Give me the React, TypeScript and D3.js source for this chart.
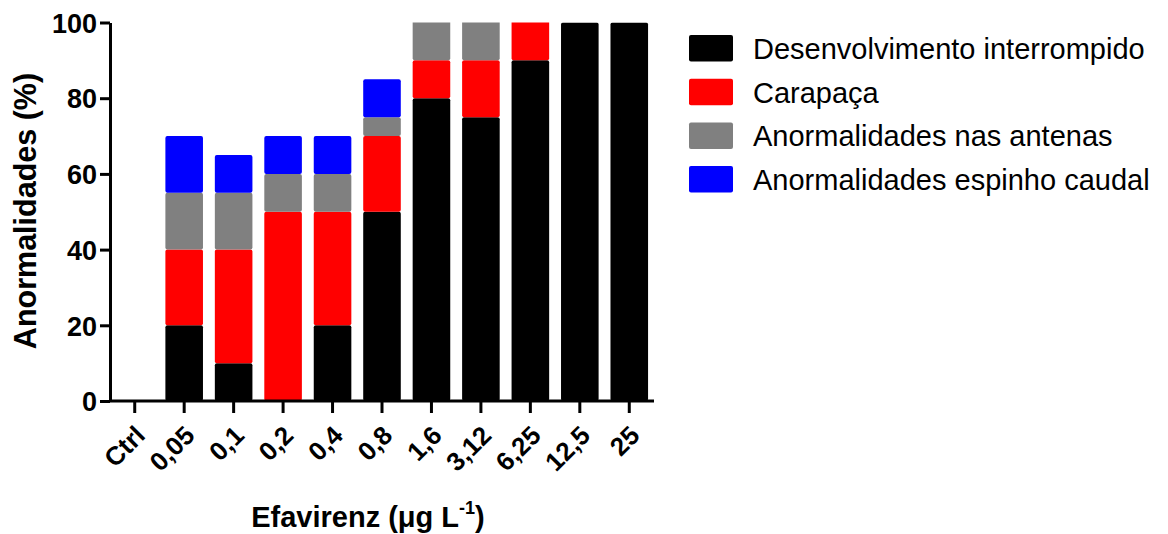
import { useRef, useEffect } from 'react';
import * as d3 from 'd3';

const categories = ['Ctrl', '0,05', '0,1', '0,2', '0,4', '0,8', '1,6', '3,12', '6,25', '12,5', '25'];
const desenvolvimento = [0, 20, 10, 0, 20, 50, 80, 75, 90, 100, 100];
const carapaca = [0, 20, 30, 50, 30, 20, 10, 15, 15, 0, 0];
const antenas = [0, 15, 15, 10, 10, 5, 15, 15, 0, 0, 0];
const espinho = [0, 15, 10, 10, 10, 10, 0, 0, 0, 0, 0];
const seriesNames = [
  'Desenvolvimento interrompido',
  'Carapaça',
  'Anormalidades nas antenas',
  'Anormalidades espinho caudal',
];
const seriesColors = ['#000000', '#ff0000', '#808080', '#0000ff'];
const yTicks = [0, 20, 40, 60, 80, 100];

const W = 1168;
const H = 534;
const FONT = '"Liberation Sans", Arial, Helvetica, sans-serif';

export default function App() {
  const svgRef = useRef<SVGSVGElement>(null);

  useEffect(() => {
    if (!svgRef.current) return;
    const svg = d3.select(svgRef.current);
    svg.selectAll('*').remove();

    const left = 110;
    const right = 654;
    const top = 22.5;
    const bottom = 401;

    const x = d3.scaleBand<string>().domain(categories).range([left, right]).paddingInner(0.24).paddingOuter(0.12);
    const y = d3.scaleLinear().domain([0, 100]).range([bottom, top]);

    const rows = categories.map((c, i) => ({
      cat: c,
      s0: desenvolvimento[i],
      s1: carapaca[i],
      s2: antenas[i],
      s3: espinho[i],
    }));
    const stack = d3.stack<any>().keys(['s0', 's1', 's2', 's3'])(rows);

    // bars above 100% are cut off at the top of the axis
    svg
      .append('defs')
      .append('clipPath')
      .attr('id', 'plotclip')
      .append('rect')
      .attr('x', left)
      .attr('y', top)
      .attr('width', right - left)
      .attr('height', bottom - top);

    const bars = svg.append('g').attr('clip-path', 'url(#plotclip)');
    stack.forEach((layer, si) => {
      bars
        .append('g')
        .selectAll('rect')
        .data(layer.filter((d) => d[1] - d[0] > 0))
        .join('rect')
        .attr('x', (d) => x(d.data.cat) as number)
        .attr('width', x.bandwidth())
        .attr('y', (d) => y(d[1]))
        .attr('height', (d) => y(d[0]) - y(d[1]))
        .attr('rx', 2)
        .attr('fill', seriesColors[si]);
    });

    // Y axis
    const yAxis = svg
      .append('g')
      .attr('transform', `translate(${left},0)`)
      .call(d3.axisLeft(y).tickValues(yTicks).tickSize(10).tickPadding(3).tickSizeOuter(0));
    yAxis.select('.domain').attr('stroke', '#000').attr('stroke-width', 3);
    yAxis.selectAll('.tick line').attr('stroke', '#000').attr('stroke-width', 3);
    yAxis
      .selectAll('.tick text')
      .attr('fill', '#000')
      .attr('font-family', FONT)
      .attr('font-weight', 'bold')
      .attr('font-size', 27)
      .attr('dy', '0.36em');

    // X axis
    const xAxis = svg
      .append('g')
      .attr('transform', `translate(0,${bottom})`)
      .call(d3.axisBottom(x).tickSize(12).tickSizeOuter(0));
    xAxis.select('.domain').attr('stroke', '#000').attr('stroke-width', 3).attr('d', `M${left},0H${right}`);
    xAxis.selectAll('.tick line').attr('stroke', '#000').attr('stroke-width', 3);
    xAxis
      .selectAll('.tick text')
      .attr('fill', '#000')
      .attr('font-family', FONT)
      .attr('font-weight', 'bold')
      .attr('font-size', 26)
      .attr('text-anchor', 'end')
      .attr('y', 0)
      .attr('dy', 0)
      .attr('transform', 'translate(12,36) rotate(-45)');

    // Axis titles
    svg
      .append('text')
      .attr('transform', `translate(36,211) rotate(-90)`)
      .attr('text-anchor', 'middle')
      .attr('font-family', FONT)
      .attr('font-weight', 'bold')
      .attr('font-size', 30.5)
      .text('Anormalidades (%)');

    const xt = svg
      .append('text')
      .attr('x', 368)
      .attr('y', 527)
      .attr('text-anchor', 'middle')
      .attr('font-family', FONT)
      .attr('font-weight', 'bold')
      .attr('font-size', 29);
    xt.append('tspan').text('Efavirenz (μg L');
    xt.append('tspan').attr('font-size', 18).attr('dy', -13).text('-1');
    xt.append('tspan').attr('dy', 13).text(')');

    // Legend
    const legend = svg
      .append('g')
      .selectAll('g')
      .data(seriesNames)
      .join('g')
      .attr('transform', (_, i) => `translate(689,${35 + i * 43.7})`);
    legend
      .append('rect')
      .attr('width', 44)
      .attr('height', 26.5)
      .attr('rx', 2)
      .attr('fill', (_, i) => seriesColors[i]);
    legend
      .append('text')
      .attr('x', 64)
      .attr('y', 24)
      .attr('font-family', FONT)
      .attr('font-size', 29)
      .attr('fill', '#000')
      .text((d) => d);
  }, []);

  return (
    <div style={{ position: 'fixed', left: 0, top: 0, background: '#fff' }}>
      <svg ref={svgRef} width={W} height={H} />
    </div>
  );
}
